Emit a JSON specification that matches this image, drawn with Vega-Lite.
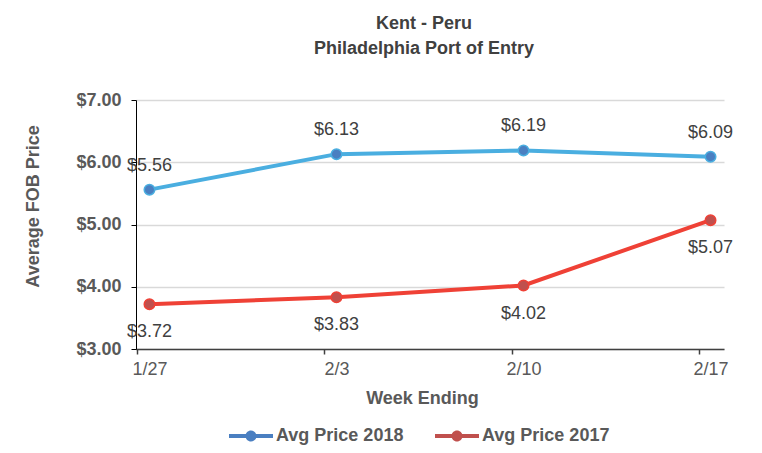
{
  "$schema": "https://vega.github.io/schema/vega-lite/v6.json",
  "width": 588,
  "height": 249,
  "autosize": {"type": "none"},
  "padding": {"left": 136, "top": 100, "right": 38, "bottom": 104},
  "background": "white",
  "config": {
    "font": "Liberation Sans",
    "view": {"stroke": null}
  },
  "title": {
    "text": ["Kent - Peru", "Philadelphia Port of Entry"],
    "fontSize": 18,
    "fontWeight": "bold",
    "color": "#404040",
    "lineHeight": 25,
    "anchor": "middle",
    "dx": -6,
    "offset": 33
  },
  "data": {
    "values": [
      {"week": "1/27", "series": "Avg Price 2018", "price": 5.56},
      {"week": "2/3", "series": "Avg Price 2018", "price": 6.13},
      {"week": "2/10", "series": "Avg Price 2018", "price": 6.19},
      {"week": "2/17", "series": "Avg Price 2018", "price": 6.09},
      {"week": "1/27", "series": "Avg Price 2017", "price": 3.72},
      {"week": "2/3", "series": "Avg Price 2017", "price": 3.83},
      {"week": "2/10", "series": "Avg Price 2017", "price": 4.02},
      {"week": "2/17", "series": "Avg Price 2017", "price": 5.07}
    ]
  },
  "encoding": {
    "x": {
      "field": "week",
      "type": "ordinal",
      "sort": ["1/27", "2/3", "2/10", "2/17"],
      "scale": {"type": "point", "padding": 0.072},
      "axis": {
        "title": "Week Ending",
        "titleFontSize": 18,
        "titleFontWeight": "bold",
        "titleColor": "#595959",
        "titleX": 286,
        "titleY": 49,
        "titleBaseline": "middle",
        "titleAlign": "center",
        "labelAngle": 0,
        "labelFontSize": 18,
        "labelColor": "#595959",
        "labelPadding": 6,
        "tickOffset": -12,
        "labelOffset": 12,
        "tickSize": 5,
        "tickColor": "#404040",
        "tickWidth": 1.5,
        "domainColor": "#404040",
        "domainWidth": 1.5,
        "grid": false
      }
    },
    "y": {
      "field": "price",
      "type": "quantitative",
      "scale": {"domain": [3, 7], "nice": false, "zero": false},
      "axis": {
        "title": "Average FOB Price",
        "titleFontSize": 18,
        "titleFontWeight": "bold",
        "titleColor": "#595959",
        "titleAngle": -90,
        "titleX": -103,
        "titleY": 106,
        "titleBaseline": "middle",
        "titleAlign": "center",
        "values": [3, 4, 5, 6, 7],
        "format": "$.2f",
        "labelFontSize": 18,
        "labelFontWeight": "bold",
        "labelColor": "#595959",
        "labelPadding": 10,
        "tickSize": 5,
        "tickColor": "#000000",
        "domainColor": "#000000",
        "domainWidth": 1,
        "gridColor": "#d9d9d9",
        "gridWidth": 1.5
      }
    }
  },
  "layer": [
    {
      "mark": {"type": "line", "strokeWidth": 4},
      "encoding": {
        "color": {
          "field": "series",
          "type": "nominal",
          "scale": {"domain": ["Avg Price 2018", "Avg Price 2017"], "range": ["#4aaee0", "#ef4136"]},
          "legend": {
            "title": null,
            "orient": "none",
            "direction": "horizontal",
            "legendX": 93,
            "legendY": 314,
            "padding": 0,
            "symbolType": "M-1,-0.09H1V0.09H-1Z M0.25,0A0.25,0.25,0,1,1,-0.25,0A0.25,0.25,0,1,1,0.25,0Z",
            "symbolSize": 1936,
            "symbolStrokeWidth": 0,
            "labelFontSize": 18,
            "labelFontWeight": "bold",
            "labelColor": "#595959",
            "labelOffset": 3,
            "columnPadding": 31,
            "encode": {
              "symbols": {"update": {"fill": {"signal": "datum.value === 'Avg Price 2018' ? '#4aaee0' : '#ef4136'"}, "opacity": {"value": 1}}}
            }
          }
        }
      }
    },
    {
      "mark": {"type": "point", "filled": true, "size": 110, "strokeWidth": 1.5, "opacity": 1},
      "encoding": {
        "fill": {
          "field": "series",
          "type": "nominal",
          "scale": {"domain": ["Avg Price 2018", "Avg Price 2017"], "range": ["#4a7fc1", "#c0504d"]},
          "legend": null
        },
        "stroke": {
          "field": "series",
          "type": "nominal",
          "scale": {"domain": ["Avg Price 2018", "Avg Price 2017"], "range": ["#4aaee0", "#ef4136"]},
          "legend": null
        }
      }
    },
    {
      "transform": [{"filter": "datum.series === 'Avg Price 2018'"}],
      "mark": {"type": "text", "dy": -24, "fontSize": 18, "color": "#404040"},
      "encoding": {"text": {"field": "price", "type": "quantitative", "format": "$.2f"}}
    },
    {
      "transform": [{"filter": "datum.series === 'Avg Price 2017'"}],
      "mark": {"type": "text", "dy": 28, "fontSize": 18, "color": "#404040"},
      "encoding": {"text": {"field": "price", "type": "quantitative", "format": "$.2f"}}
    }
  ]
}
